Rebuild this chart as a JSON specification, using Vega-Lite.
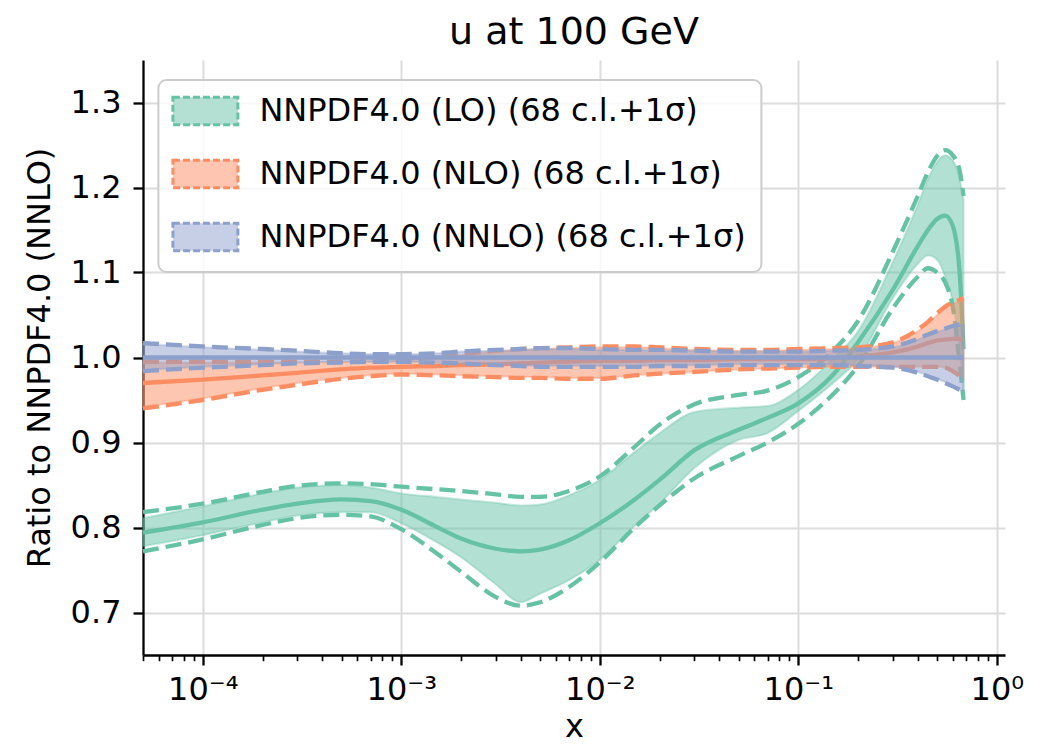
{
  "$schema": "https://vega.github.io/schema/vega-lite/v6.json",
  "width": 862,
  "height": 595,
  "autosize": {"type": "none"},
  "padding": {"left": 143, "top": 60, "right": 35, "bottom": 89},
  "title": {"text": "u at 100 GeV", "fontSize": 38, "font": "DejaVu Sans", "fontWeight": "normal", "anchor": "middle", "frame": "group", "offset": 8, "color": "#000"},
  "datasets": {
    "pdfs": [
      {"pdf": "NNPDF4.0 (LO) (68 c.l.+1σ)", "x": 5e-5, "c": 0.794, "bl": 0.778, "bh": 0.811, "dl": 0.772, "dh": 0.818},
      {"pdf": "NNPDF4.0 (LO) (68 c.l.+1σ)", "x": 1e-4, "c": 0.806, "bl": 0.791, "bh": 0.825, "dl": 0.786, "dh": 0.828},
      {"pdf": "NNPDF4.0 (LO) (68 c.l.+1σ)", "x": 2e-4, "c": 0.821, "bl": 0.806, "bh": 0.840, "dl": 0.803, "dh": 0.842},
      {"pdf": "NNPDF4.0 (LO) (68 c.l.+1σ)", "x": 3e-4, "c": 0.828, "bl": 0.814, "bh": 0.847, "dl": 0.811, "dh": 0.849},
      {"pdf": "NNPDF4.0 (LO) (68 c.l.+1σ)", "x": 5e-4, "c": 0.833, "bl": 0.818, "bh": 0.850, "dl": 0.815, "dh": 0.852},
      {"pdf": "NNPDF4.0 (LO) (68 c.l.+1σ)", "x": 7e-4, "c": 0.831, "bl": 0.818, "bh": 0.847, "dl": 0.813, "dh": 0.851},
      {"pdf": "NNPDF4.0 (LO) (68 c.l.+1σ)", "x": 1e-3, "c": 0.821, "bl": 0.805, "bh": 0.840, "dl": 0.798, "dh": 0.848},
      {"pdf": "NNPDF4.0 (LO) (68 c.l.+1σ)", "x": 1.5e-3, "c": 0.801, "bl": 0.783, "bh": 0.836, "dl": 0.770, "dh": 0.845},
      {"pdf": "NNPDF4.0 (LO) (68 c.l.+1σ)", "x": 2e-3, "c": 0.787, "bl": 0.765, "bh": 0.833, "dl": 0.748, "dh": 0.843},
      {"pdf": "NNPDF4.0 (LO) (68 c.l.+1σ)", "x": 3e-3, "c": 0.775, "bl": 0.733, "bh": 0.829, "dl": 0.718, "dh": 0.839},
      {"pdf": "NNPDF4.0 (LO) (68 c.l.+1σ)", "x": 4e-3, "c": 0.772, "bl": 0.712, "bh": 0.826, "dl": 0.708, "dh": 0.836},
      {"pdf": "NNPDF4.0 (LO) (68 c.l.+1σ)", "x": 5e-3, "c": 0.774, "bl": 0.722, "bh": 0.827, "dl": 0.712, "dh": 0.836},
      {"pdf": "NNPDF4.0 (LO) (68 c.l.+1σ)", "x": 7e-3, "c": 0.785, "bl": 0.738, "bh": 0.838, "dl": 0.730, "dh": 0.843},
      {"pdf": "NNPDF4.0 (LO) (68 c.l.+1σ)", "x": 1e-2, "c": 0.805, "bl": 0.762, "bh": 0.856, "dl": 0.759, "dh": 0.860},
      {"pdf": "NNPDF4.0 (LO) (68 c.l.+1σ)", "x": 1.5e-2, "c": 0.833, "bl": 0.802, "bh": 0.889, "dl": 0.800, "dh": 0.895},
      {"pdf": "NNPDF4.0 (LO) (68 c.l.+1σ)", "x": 2e-2, "c": 0.856, "bl": 0.828, "bh": 0.911, "dl": 0.826, "dh": 0.921},
      {"pdf": "NNPDF4.0 (LO) (68 c.l.+1σ)", "x": 3e-2, "c": 0.891, "bl": 0.870, "bh": 0.936, "dl": 0.858, "dh": 0.945},
      {"pdf": "NNPDF4.0 (LO) (68 c.l.+1σ)", "x": 5e-2, "c": 0.915, "bl": 0.903, "bh": 0.941, "dl": 0.884, "dh": 0.956},
      {"pdf": "NNPDF4.0 (LO) (68 c.l.+1σ)", "x": 7e-2, "c": 0.929, "bl": 0.911, "bh": 0.943, "dl": 0.900, "dh": 0.961},
      {"pdf": "NNPDF4.0 (LO) (68 c.l.+1σ)", "x": 0.1, "c": 0.946, "bl": 0.937, "bh": 0.962, "dl": 0.922, "dh": 0.977},
      {"pdf": "NNPDF4.0 (LO) (68 c.l.+1σ)", "x": 0.15, "c": 0.980, "bl": 0.970, "bh": 0.999, "dl": 0.957, "dh": 1.008},
      {"pdf": "NNPDF4.0 (LO) (68 c.l.+1σ)", "x": 0.2, "c": 1.018, "bl": 0.998, "bh": 1.031, "dl": 0.990, "dh": 1.043},
      {"pdf": "NNPDF4.0 (LO) (68 c.l.+1σ)", "x": 0.3, "c": 1.080, "bl": 1.070, "bh": 1.113, "dl": 1.058, "dh": 1.125},
      {"pdf": "NNPDF4.0 (LO) (68 c.l.+1σ)", "x": 0.4, "c": 1.131, "bl": 1.110, "bh": 1.180, "dl": 1.095, "dh": 1.190},
      {"pdf": "NNPDF4.0 (LO) (68 c.l.+1σ)", "x": 0.45, "c": 1.150, "bl": 1.120, "bh": 1.210, "dl": 1.105, "dh": 1.218},
      {"pdf": "NNPDF4.0 (LO) (68 c.l.+1σ)", "x": 0.5, "c": 1.163, "bl": 1.115, "bh": 1.230, "dl": 1.100, "dh": 1.237},
      {"pdf": "NNPDF4.0 (LO) (68 c.l.+1σ)", "x": 0.55, "c": 1.167, "bl": 1.095, "bh": 1.238, "dl": 1.088, "dh": 1.244},
      {"pdf": "NNPDF4.0 (LO) (68 c.l.+1σ)", "x": 0.6, "c": 1.155, "bl": 1.065, "bh": 1.232, "dl": 1.060, "dh": 1.238},
      {"pdf": "NNPDF4.0 (LO) (68 c.l.+1σ)", "x": 0.65, "c": 1.100, "bl": 1.010, "bh": 1.210, "dl": 0.993, "dh": 1.220},
      {"pdf": "NNPDF4.0 (LO) (68 c.l.+1σ)", "x": 0.68, "c": 1.010, "bl": 0.958, "bh": 1.186, "dl": 0.950, "dh": 1.190},

      {"pdf": "NNPDF4.0 (NLO) (68 c.l.+1σ)", "x": 5e-5, "c": 0.970, "bl": 0.942, "bh": 0.994, "dl": 0.940, "dh": 0.995},
      {"pdf": "NNPDF4.0 (NLO) (68 c.l.+1σ)", "x": 1e-4, "c": 0.974, "bl": 0.952, "bh": 0.994, "dl": 0.950, "dh": 0.995},
      {"pdf": "NNPDF4.0 (NLO) (68 c.l.+1σ)", "x": 2e-4, "c": 0.979, "bl": 0.964, "bh": 0.994, "dl": 0.962, "dh": 0.995},
      {"pdf": "NNPDF4.0 (NLO) (68 c.l.+1σ)", "x": 3e-4, "c": 0.982, "bl": 0.970, "bh": 0.994, "dl": 0.968, "dh": 0.995},
      {"pdf": "NNPDF4.0 (NLO) (68 c.l.+1σ)", "x": 5e-4, "c": 0.986, "bl": 0.976, "bh": 0.995, "dl": 0.975, "dh": 0.995},
      {"pdf": "NNPDF4.0 (NLO) (68 c.l.+1σ)", "x": 7e-4, "c": 0.988, "bl": 0.979, "bh": 0.996, "dl": 0.978, "dh": 0.996},
      {"pdf": "NNPDF4.0 (NLO) (68 c.l.+1σ)", "x": 1e-3, "c": 0.989, "bl": 0.981, "bh": 0.997, "dl": 0.980, "dh": 0.998},
      {"pdf": "NNPDF4.0 (NLO) (68 c.l.+1σ)", "x": 1.5e-3, "c": 0.990, "bl": 0.980, "bh": 1.000, "dl": 0.979, "dh": 1.001},
      {"pdf": "NNPDF4.0 (NLO) (68 c.l.+1σ)", "x": 2e-3, "c": 0.991, "bl": 0.979, "bh": 1.003, "dl": 0.978, "dh": 1.004},
      {"pdf": "NNPDF4.0 (NLO) (68 c.l.+1σ)", "x": 3e-3, "c": 0.992, "bl": 0.978, "bh": 1.007, "dl": 0.977, "dh": 1.008},
      {"pdf": "NNPDF4.0 (NLO) (68 c.l.+1σ)", "x": 4e-3, "c": 0.993, "bl": 0.977, "bh": 1.009, "dl": 0.976, "dh": 1.010},
      {"pdf": "NNPDF4.0 (NLO) (68 c.l.+1σ)", "x": 5e-3, "c": 0.994, "bl": 0.977, "bh": 1.010, "dl": 0.976, "dh": 1.011},
      {"pdf": "NNPDF4.0 (NLO) (68 c.l.+1σ)", "x": 7e-3, "c": 0.995, "bl": 0.976, "bh": 1.011, "dl": 0.975, "dh": 1.012},
      {"pdf": "NNPDF4.0 (NLO) (68 c.l.+1σ)", "x": 1e-2, "c": 0.996, "bl": 0.976, "bh": 1.012, "dl": 0.975, "dh": 1.013},
      {"pdf": "NNPDF4.0 (NLO) (68 c.l.+1σ)", "x": 1.5e-2, "c": 0.996, "bl": 0.979, "bh": 1.012, "dl": 0.979, "dh": 1.013},
      {"pdf": "NNPDF4.0 (NLO) (68 c.l.+1σ)", "x": 2e-2, "c": 0.997, "bl": 0.981, "bh": 1.011, "dl": 0.981, "dh": 1.012},
      {"pdf": "NNPDF4.0 (NLO) (68 c.l.+1σ)", "x": 3e-2, "c": 0.997, "bl": 0.983, "bh": 1.009, "dl": 0.983, "dh": 1.010},
      {"pdf": "NNPDF4.0 (NLO) (68 c.l.+1σ)", "x": 5e-2, "c": 0.998, "bl": 0.986, "bh": 1.008, "dl": 0.986, "dh": 1.009},
      {"pdf": "NNPDF4.0 (NLO) (68 c.l.+1σ)", "x": 7e-2, "c": 0.998, "bl": 0.987, "bh": 1.008, "dl": 0.987, "dh": 1.009},
      {"pdf": "NNPDF4.0 (NLO) (68 c.l.+1σ)", "x": 0.1, "c": 0.998, "bl": 0.988, "bh": 1.009, "dl": 0.988, "dh": 1.010},
      {"pdf": "NNPDF4.0 (NLO) (68 c.l.+1σ)", "x": 0.15, "c": 0.999, "bl": 0.989, "bh": 1.010, "dl": 0.989, "dh": 1.011},
      {"pdf": "NNPDF4.0 (NLO) (68 c.l.+1σ)", "x": 0.2, "c": 1.001, "bl": 0.989, "bh": 1.011, "dl": 0.989, "dh": 1.012},
      {"pdf": "NNPDF4.0 (NLO) (68 c.l.+1σ)", "x": 0.3, "c": 1.006, "bl": 0.989, "bh": 1.017, "dl": 0.989, "dh": 1.018},
      {"pdf": "NNPDF4.0 (NLO) (68 c.l.+1σ)", "x": 0.4, "c": 1.013, "bl": 0.989, "bh": 1.031, "dl": 0.989, "dh": 1.033},
      {"pdf": "NNPDF4.0 (NLO) (68 c.l.+1σ)", "x": 0.45, "c": 1.017, "bl": 0.989, "bh": 1.040, "dl": 0.989, "dh": 1.042},
      {"pdf": "NNPDF4.0 (NLO) (68 c.l.+1σ)", "x": 0.5, "c": 1.020, "bl": 0.989, "bh": 1.050, "dl": 0.989, "dh": 1.052},
      {"pdf": "NNPDF4.0 (NLO) (68 c.l.+1σ)", "x": 0.55, "c": 1.021, "bl": 0.988, "bh": 1.058, "dl": 0.988, "dh": 1.060},
      {"pdf": "NNPDF4.0 (NLO) (68 c.l.+1σ)", "x": 0.6, "c": 1.022, "bl": 0.985, "bh": 1.063, "dl": 0.984, "dh": 1.065},
      {"pdf": "NNPDF4.0 (NLO) (68 c.l.+1σ)", "x": 0.65, "c": 1.022, "bl": 0.980, "bh": 1.066, "dl": 0.978, "dh": 1.068},
      {"pdf": "NNPDF4.0 (NLO) (68 c.l.+1σ)", "x": 0.68, "c": 1.022, "bl": 0.976, "bh": 1.067, "dl": 0.974, "dh": 1.070},

      {"pdf": "NNPDF4.0 (NNLO) (68 c.l.+1σ)", "x": 5e-5, "c": 1.0, "bl": 0.985, "bh": 1.016, "dl": 0.984, "dh": 1.017},
      {"pdf": "NNPDF4.0 (NNLO) (68 c.l.+1σ)", "x": 1e-4, "c": 1.0, "bl": 0.989, "bh": 1.012, "dl": 0.988, "dh": 1.013},
      {"pdf": "NNPDF4.0 (NNLO) (68 c.l.+1σ)", "x": 2e-4, "c": 1.0, "bl": 0.992, "bh": 1.009, "dl": 0.991, "dh": 1.010},
      {"pdf": "NNPDF4.0 (NNLO) (68 c.l.+1σ)", "x": 3e-4, "c": 1.0, "bl": 0.994, "bh": 1.007, "dl": 0.993, "dh": 1.008},
      {"pdf": "NNPDF4.0 (NNLO) (68 c.l.+1σ)", "x": 5e-4, "c": 1.0, "bl": 0.995, "bh": 1.005, "dl": 0.994, "dh": 1.005},
      {"pdf": "NNPDF4.0 (NNLO) (68 c.l.+1σ)", "x": 7e-4, "c": 1.0, "bl": 0.995, "bh": 1.004, "dl": 0.995, "dh": 1.004},
      {"pdf": "NNPDF4.0 (NNLO) (68 c.l.+1σ)", "x": 1e-3, "c": 1.0, "bl": 0.995, "bh": 1.004, "dl": 0.995, "dh": 1.004},
      {"pdf": "NNPDF4.0 (NNLO) (68 c.l.+1σ)", "x": 1.5e-3, "c": 1.0, "bl": 0.994, "bh": 1.005, "dl": 0.994, "dh": 1.005},
      {"pdf": "NNPDF4.0 (NNLO) (68 c.l.+1σ)", "x": 2e-3, "c": 1.0, "bl": 0.993, "bh": 1.007, "dl": 0.993, "dh": 1.007},
      {"pdf": "NNPDF4.0 (NNLO) (68 c.l.+1σ)", "x": 3e-3, "c": 1.0, "bl": 0.992, "bh": 1.008, "dl": 0.991, "dh": 1.009},
      {"pdf": "NNPDF4.0 (NNLO) (68 c.l.+1σ)", "x": 4e-3, "c": 1.0, "bl": 0.991, "bh": 1.009, "dl": 0.990, "dh": 1.010},
      {"pdf": "NNPDF4.0 (NNLO) (68 c.l.+1σ)", "x": 5e-3, "c": 1.0, "bl": 0.990, "bh": 1.010, "dl": 0.989, "dh": 1.011},
      {"pdf": "NNPDF4.0 (NNLO) (68 c.l.+1σ)", "x": 7e-3, "c": 1.0, "bl": 0.990, "bh": 1.010, "dl": 0.989, "dh": 1.011},
      {"pdf": "NNPDF4.0 (NNLO) (68 c.l.+1σ)", "x": 1e-2, "c": 1.0, "bl": 0.990, "bh": 1.009, "dl": 0.989, "dh": 1.010},
      {"pdf": "NNPDF4.0 (NNLO) (68 c.l.+1σ)", "x": 1.5e-2, "c": 1.0, "bl": 0.990, "bh": 1.009, "dl": 0.989, "dh": 1.009},
      {"pdf": "NNPDF4.0 (NNLO) (68 c.l.+1σ)", "x": 2e-2, "c": 1.0, "bl": 0.991, "bh": 1.008, "dl": 0.990, "dh": 1.009},
      {"pdf": "NNPDF4.0 (NNLO) (68 c.l.+1σ)", "x": 3e-2, "c": 1.0, "bl": 0.991, "bh": 1.008, "dl": 0.990, "dh": 1.008},
      {"pdf": "NNPDF4.0 (NNLO) (68 c.l.+1σ)", "x": 5e-2, "c": 1.0, "bl": 0.992, "bh": 1.007, "dl": 0.991, "dh": 1.007},
      {"pdf": "NNPDF4.0 (NNLO) (68 c.l.+1σ)", "x": 7e-2, "c": 1.0, "bl": 0.992, "bh": 1.007, "dl": 0.991, "dh": 1.007},
      {"pdf": "NNPDF4.0 (NNLO) (68 c.l.+1σ)", "x": 0.1, "c": 1.0, "bl": 0.992, "bh": 1.007, "dl": 0.991, "dh": 1.007},
      {"pdf": "NNPDF4.0 (NNLO) (68 c.l.+1σ)", "x": 0.15, "c": 1.0, "bl": 0.992, "bh": 1.008, "dl": 0.991, "dh": 1.008},
      {"pdf": "NNPDF4.0 (NNLO) (68 c.l.+1σ)", "x": 0.2, "c": 1.0, "bl": 0.991, "bh": 1.009, "dl": 0.990, "dh": 1.009},
      {"pdf": "NNPDF4.0 (NNLO) (68 c.l.+1σ)", "x": 0.3, "c": 1.0, "bl": 0.989, "bh": 1.012, "dl": 0.988, "dh": 1.013},
      {"pdf": "NNPDF4.0 (NNLO) (68 c.l.+1σ)", "x": 0.4, "c": 1.0, "bl": 0.983, "bh": 1.021, "dl": 0.982, "dh": 1.022},
      {"pdf": "NNPDF4.0 (NNLO) (68 c.l.+1σ)", "x": 0.45, "c": 1.0, "bl": 0.979, "bh": 1.026, "dl": 0.978, "dh": 1.027},
      {"pdf": "NNPDF4.0 (NNLO) (68 c.l.+1σ)", "x": 0.5, "c": 1.0, "bl": 0.975, "bh": 1.030, "dl": 0.974, "dh": 1.031},
      {"pdf": "NNPDF4.0 (NNLO) (68 c.l.+1σ)", "x": 0.55, "c": 1.0, "bl": 0.971, "bh": 1.033, "dl": 0.970, "dh": 1.034},
      {"pdf": "NNPDF4.0 (NNLO) (68 c.l.+1σ)", "x": 0.6, "c": 1.0, "bl": 0.967, "bh": 1.036, "dl": 0.966, "dh": 1.037},
      {"pdf": "NNPDF4.0 (NNLO) (68 c.l.+1σ)", "x": 0.65, "c": 1.0, "bl": 0.963, "bh": 1.038, "dl": 0.962, "dh": 1.039},
      {"pdf": "NNPDF4.0 (NNLO) (68 c.l.+1σ)", "x": 0.68, "c": 1.0, "bl": 0.961, "bh": 1.039, "dl": 0.960, "dh": 1.040}
    ]
  },
  "data": {"name": "pdfs"},
  "encoding": {
    "x": {
      "field": "x", "type": "quantitative",
      "scale": {"type": "log", "domain": [5e-5, 1.1], "nice": false},
      "axis": {
        "title": "x",
        "values": [0.00005,0.00006,0.00007,0.00008,0.00009,0.0001,0.0002,0.0003,0.0004,0.0005,0.0006,0.0007,0.0008,0.0009,0.001,0.002,0.003,0.004,0.005,0.006,0.007,0.008,0.009,0.01,0.02,0.03,0.04,0.05,0.06,0.07,0.08,0.09,0.1,0.2,0.3,0.4,0.5,0.6,0.7,0.8,0.9,1],
        "labelExpr": "abs(log(datum.value)/LN10 - round(log(datum.value)/LN10)) < 0.001 ? '10' + ['⁰','⁻¹','⁻²','⁻³','⁻⁴'][abs(round(log(datum.value)/LN10))] : ''",
        "tickSize": {"condition": {"test": "abs(log(datum.value)/LN10 - round(log(datum.value)/LN10)) < 0.001", "value": 10}, "value": 5.7},
        "tickWidth": {"condition": {"test": "abs(log(datum.value)/LN10 - round(log(datum.value)/LN10)) < 0.001", "value": 2.3}, "value": 1.7},
        "gridOpacity": {"condition": {"test": "abs(log(datum.value)/LN10 - round(log(datum.value)/LN10)) < 0.001", "value": 1}, "value": 0},
        "labelOverlap": false, "labelBound": false, "labelFlush": false,
        "labelPadding": 9, "titlePadding": 6
      }
    }
  },
  "layer": [
    {
      "transform": [{"filter": {"field": "pdf", "equal": "NNPDF4.0 (LO) (68 c.l.+1σ)"}}],
      "layer": [
        {"mark": {"type": "area", "interpolate": "monotone", "fill": "#66c2a5", "fillOpacity": 0.5, "stroke": "#66c2a5", "strokeOpacity": 0.35, "strokeWidth": 2},
         "encoding": {
           "y": {"field": "bl", "type": "quantitative", "scale": {"domain": [0.65, 1.35], "nice": false, "zero": false}, "title": "Ratio to NNPDF4.0 (NNLO)"},
           "y2": {"field": "bh"}
         }},
        {"mark": {"type": "line", "interpolate": "monotone", "color": "#66c2a5", "strokeWidth": 4.3},
         "encoding": {"y": {"field": "c", "type": "quantitative", "scale": {"domain": [0.65, 1.35], "nice": false, "zero": false}, "title": "Ratio to NNPDF4.0 (NNLO)"}}},
        {"mark": {"type": "line", "interpolate": "monotone", "color": "#66c2a5", "strokeWidth": 4.3, "strokeDash": [16, 7]},
         "encoding": {"y": {"field": "dh", "type": "quantitative", "scale": {"domain": [0.65, 1.35], "nice": false, "zero": false}, "title": "Ratio to NNPDF4.0 (NNLO)"}}},
        {"mark": {"type": "line", "interpolate": "monotone", "color": "#66c2a5", "strokeWidth": 4.3, "strokeDash": [16, 7]},
         "encoding": {"y": {"field": "dl", "type": "quantitative", "scale": {"domain": [0.65, 1.35], "nice": false, "zero": false}, "title": "Ratio to NNPDF4.0 (NNLO)"}}}
      ]
    },
    {
      "transform": [{"filter": {"field": "pdf", "equal": "NNPDF4.0 (NLO) (68 c.l.+1σ)"}}],
      "layer": [
        {"mark": {"type": "area", "interpolate": "monotone", "fill": "#fc8d62", "fillOpacity": 0.5, "stroke": "#fc8d62", "strokeOpacity": 0.35, "strokeWidth": 2},
         "encoding": {
           "y": {"field": "bl", "type": "quantitative", "scale": {"domain": [0.65, 1.35], "nice": false, "zero": false}, "title": "Ratio to NNPDF4.0 (NNLO)"},
           "y2": {"field": "bh"}
         }},
        {"mark": {"type": "line", "interpolate": "monotone", "color": "#fc8d62", "strokeWidth": 4.3},
         "encoding": {"y": {"field": "c", "type": "quantitative", "scale": {"domain": [0.65, 1.35], "nice": false, "zero": false}, "title": "Ratio to NNPDF4.0 (NNLO)"}}},
        {"mark": {"type": "line", "interpolate": "monotone", "color": "#fc8d62", "strokeWidth": 4.3, "strokeDash": [16, 7]},
         "encoding": {"y": {"field": "dh", "type": "quantitative", "scale": {"domain": [0.65, 1.35], "nice": false, "zero": false}, "title": "Ratio to NNPDF4.0 (NNLO)"}}},
        {"mark": {"type": "line", "interpolate": "monotone", "color": "#fc8d62", "strokeWidth": 4.3, "strokeDash": [16, 7]},
         "encoding": {"y": {"field": "dl", "type": "quantitative", "scale": {"domain": [0.65, 1.35], "nice": false, "zero": false}, "title": "Ratio to NNPDF4.0 (NNLO)"}}}
      ]
    },
    {
      "transform": [{"filter": {"field": "pdf", "equal": "NNPDF4.0 (NNLO) (68 c.l.+1σ)"}}],
      "layer": [
        {"mark": {"type": "area", "interpolate": "monotone", "fill": "#8da0cb", "fillOpacity": 0.5, "stroke": "#8da0cb", "strokeOpacity": 0.35, "strokeWidth": 2},
         "encoding": {
           "y": {"field": "bl", "type": "quantitative", "scale": {"domain": [0.65, 1.35], "nice": false, "zero": false}, "title": "Ratio to NNPDF4.0 (NNLO)"},
           "y2": {"field": "bh"}
         }},
        {"mark": {"type": "line", "interpolate": "monotone", "color": "#8da0cb", "strokeWidth": 4.3},
         "encoding": {"y": {"field": "c", "type": "quantitative", "scale": {"domain": [0.65, 1.35], "nice": false, "zero": false}, "title": "Ratio to NNPDF4.0 (NNLO)"}}},
        {"mark": {"type": "line", "interpolate": "monotone", "color": "#8da0cb", "strokeWidth": 4.3, "strokeDash": [16, 7]},
         "encoding": {"y": {"field": "dh", "type": "quantitative", "scale": {"domain": [0.65, 1.35], "nice": false, "zero": false}, "title": "Ratio to NNPDF4.0 (NNLO)"}}},
        {"mark": {"type": "line", "interpolate": "monotone", "color": "#8da0cb", "strokeWidth": 4.3, "strokeDash": [16, 7]},
         "encoding": {"y": {"field": "dl", "type": "quantitative", "scale": {"domain": [0.65, 1.35], "nice": false, "zero": false}, "title": "Ratio to NNPDF4.0 (NNLO)"}}}
      ]
    },
    {
      "transform": [{"filter": "false"}],
      "mark": {"type": "rect", "strokeWidth": 3},
      "encoding": {
        "y": {"field": "c", "type": "quantitative", "scale": {"domain": [0.65, 1.35], "nice": false, "zero": false}, "title": "Ratio to NNPDF4.0 (NNLO)"},
        "fill": {"field": "pdf", "type": "nominal",
          "scale": {"domain": ["NNPDF4.0 (LO) (68 c.l.+1σ)", "NNPDF4.0 (NLO) (68 c.l.+1σ)", "NNPDF4.0 (NNLO) (68 c.l.+1σ)"], "range": ["#b3e0d2", "#fec6b0", "#c6cfe5"]},
          "legend": {"symbolType": "M-2.38,-1H2.38V1H-2.38Z"}},
        "stroke": {"field": "pdf", "type": "nominal",
          "scale": {"domain": ["NNPDF4.0 (LO) (68 c.l.+1σ)", "NNPDF4.0 (NLO) (68 c.l.+1σ)", "NNPDF4.0 (NNLO) (68 c.l.+1σ)"], "range": ["#66c2a5", "#fc8d62", "#8da0cb"]},
          "legend": {"symbolType": "M-2.38,-1H2.38V1H-2.38Z"}}
      }
    }
  ],
  "config": {
    "font": "DejaVu Sans",
    "view": {"stroke": null},
    "axis": {
      "domainColor": "#000", "domainWidth": 2.3, "tickColor": "#000", "tickWidth": 2.3, "tickSize": 10,
      "labelColor": "#000", "titleColor": "#000", "titleFontWeight": "normal",
      "labelFont": "DejaVu Sans", "titleFont": "DejaVu Sans",
      "labelFontSize": 32, "titleFontSize": 32,
      "gridColor": "#dcdcdc", "gridWidth": 2
    },
    "axisY": {"tickCount": 7, "labelPadding": 12, "titlePadding": 14},
    "legend": {
      "orient": "none", "legendX": 15.4, "legendY": 20,
      "title": null,
      "labelFont": "DejaVu Sans", "labelFontSize": 32, "labelColor": "#000",
      "symbolType": "M-2.38,-1H2.38V1H-2.38Z", "symbolSize": 745,
      "symbolOffset": 16, "labelOffset": 38,
      "symbolStrokeWidth": 3, "symbolDash": [7, 3], "symbolOpacity": 1,
      "rowPadding": 23, "padding": 15,
      "fillColor": "rgba(255,255,255,0.8)", "strokeColor": "#cccccc", "strokeWidth": 2, "cornerRadius": 8,
      "labelLimit": 0
    }
  }
}
